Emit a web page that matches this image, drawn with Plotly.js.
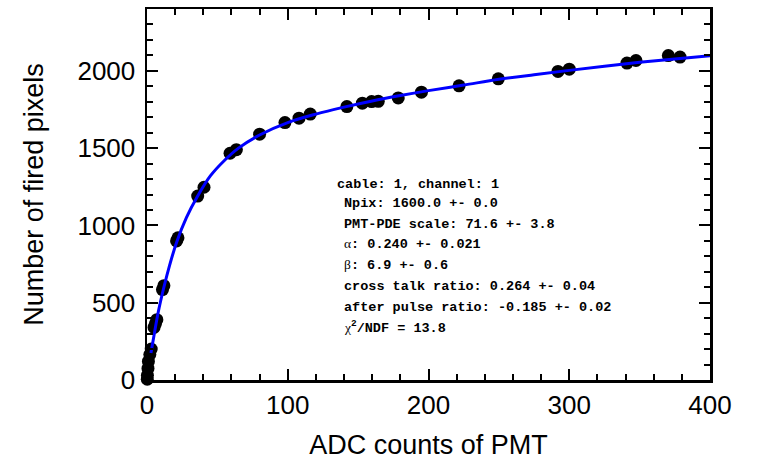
<!DOCTYPE html>
<html>
<head>
<meta charset="utf-8">
<script src="https://cdn.plot.ly/plotly-3.0.1.min.js"></script>
<style>html,body{margin:0;padding:0;background:#fff;}#chart{width:759px;height:460px;}</style>
</head>
<body>
<div id="chart"></div>
<script>
// Measured points: ADC counts of PMT vs number of fired pixels
const adcCounts = [0.2, 0.3, 0.7, 1, 2, 3, 5, 6, 7, 11, 12, 21, 22, 36, 40.5, 59, 63.5, 80, 98, 108, 116, 142, 153, 159.6, 164.3, 178.5, 195, 221.7, 249.6, 292, 300, 341, 347.4, 370.4, 378.7];
const firedPixels = [5, 30, 75, 120, 165, 200, 340, 365, 390, 585, 610, 900, 920, 1190, 1247, 1467, 1490, 1590, 1665, 1694, 1720, 1769, 1791, 1801, 1803, 1825, 1862, 1903, 1948, 1996, 2011, 2050, 2067, 2099, 2089];

// Fit curve
const fitX = [2.8, 5, 8, 12, 16, 21, 28, 36, 45, 55, 65, 80, 100, 120, 140, 160, 180, 200, 225, 250, 275, 300, 325, 350, 375, 400];
const fitY = [175, 290, 440, 600, 740, 890, 1050, 1190, 1320, 1420, 1500, 1585, 1665, 1720, 1765, 1805, 1840, 1872, 1908, 1945, 1975, 2003, 2030, 2055, 2077, 2097];

const infoLines = [
  "cable: 1, channel: 1",
  "Npix: 1600.0 +- 0.0",
  "PMT-PDE scale: 71.6 +- 3.8",
  "<span style='font-family:Liberation Serif;font-weight:normal'>\u03b1</span>: 0.240 +- 0.021",
  "<span style='font-family:Liberation Serif;font-weight:normal'>\u03b2</span>: 6.9 +- 0.6",
  "cross talk ratio: 0.264 +- 0.04",
  "after pulse ratio: -0.185 +- 0.02",
  "<span style='font-family:Liberation Serif;font-weight:normal'>\u03c7</span><sup>2</sup>/NDF = 13.8"
];

const traces = [
  {
    x: adcCounts, y: firedPixels, type: 'scatter', mode: 'markers',
    marker: {color: '#000', size: 13},
    cliponaxis: false, showlegend: false, hoverinfo: 'x+y'
  },
  {
    x: fitX, y: fitY, type: 'scatter', mode: 'lines',
    line: {color: '#0000ff', width: 3, shape: 'spline', smoothing: 1},
    showlegend: false
  }
];

const L = 147, R = 710, T = 9, B = 380;
const lineYs = [184, 204, 224, 244, 265, 286, 307, 327];
const annotations = infoLines.map((t, i) => ({
  xref: 'paper', yref: 'paper',
  x: ((i === 0 ? 335 : 342) - L) / (R - L),
  y: (B - lineYs[i]) / (B - T),
  text: '<b>' + t + '</b>',
  showarrow: false, xanchor: 'left', yanchor: 'middle',
  font: {family: 'Liberation Mono', size: 13.5, color: '#000'}
}));

const axisCommon = {
  showline: true, linecolor: '#000', linewidth: 2.5, mirror: 'ticks',
  ticks: 'inside', ticklen: 11, tickwidth: 2, tickcolor: '#000',
  showgrid: false, zeroline: false,
  tickfont: {family: 'Liberation Sans, Arial', size: 26, color: '#000'}
};

const layout = {
  width: 759, height: 460,
  margin: {l: L, r: 759 - R, t: T, b: 460 - B},
  paper_bgcolor: '#fff', plot_bgcolor: '#fff',
  xaxis: Object.assign({}, axisCommon, {
    range: [0, 400], tickvals: [0, 100, 200, 300, 400], ticktext: ['0', '100', '200', '300', '400'],
    minor: {ticks: 'inside', dtick: 20, ticklen: 6, tickwidth: 2, tickcolor: '#000', showgrid: false},
    title: {text: 'ADC counts of PMT', font: {family: 'Liberation Sans, Arial', size: 27, color: '#000'}, standoff: 24}
  }),
  yaxis: Object.assign({}, axisCommon, {
    range: [0, 2400], tickvals: [0, 500, 1000, 1500, 2000], ticktext: ['0', '500', '1000', '1500', '2000'],
    minor: {ticks: 'inside', dtick: 100, ticklen: 6, tickwidth: 2, tickcolor: '#000', showgrid: false},
    ticklabelstandoff: 4,
    title: {text: 'Number of fired pixels', font: {family: 'Liberation Sans, Arial', size: 27, color: '#000'}, standoff: 26}
  }),
  annotations: annotations
};

Plotly.newPlot('chart', traces, layout, {displayModeBar: false, staticPlot: true});
</script>
</body>
</html>
